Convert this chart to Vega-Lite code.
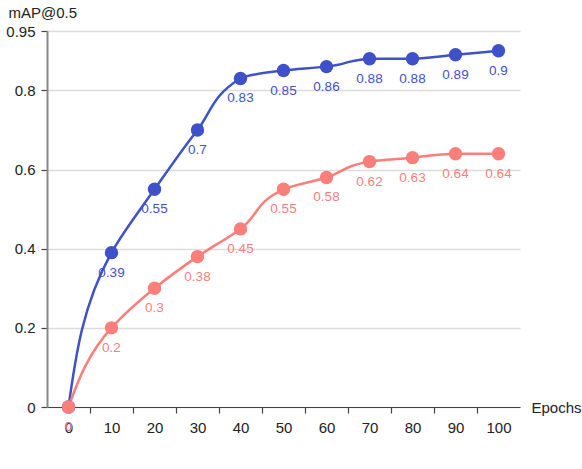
{
  "$schema": "https://vega.github.io/schema/vega-lite/v6.json",
  "width": 473,
  "height": 376,
  "autosize": {"type": "none"},
  "padding": {"left": 47, "top": 31, "right": 62, "bottom": 62},
  "config": {
    "view": {"stroke": null},
    "font": "Liberation Sans",
    "axis": {"labelFont": "Liberation Sans", "titleFont": "Liberation Sans", "labelColor": "#222", "titleColor": "#222"}
  },
  "data": {
    "values": [
      {"epoch": 100, "series": "15K Dataset", "map": 0.9},
      {"epoch": 90, "series": "15K Dataset", "map": 0.89},
      {"epoch": 80, "series": "15K Dataset", "map": 0.88},
      {"epoch": 70, "series": "15K Dataset", "map": 0.88},
      {"epoch": 60, "series": "15K Dataset", "map": 0.86},
      {"epoch": 50, "series": "15K Dataset", "map": 0.85},
      {"epoch": 40, "series": "15K Dataset", "map": 0.83},
      {"epoch": 30, "series": "15K Dataset", "map": 0.7},
      {"epoch": 20, "series": "15K Dataset", "map": 0.55},
      {"epoch": 10, "series": "15K Dataset", "map": 0.39},
      {"epoch": 0, "series": "15K Dataset", "map": 0},
      {"epoch": 100, "series": "3K Dataset", "map": 0.64},
      {"epoch": 90, "series": "3K Dataset", "map": 0.64},
      {"epoch": 80, "series": "3K Dataset", "map": 0.63},
      {"epoch": 70, "series": "3K Dataset", "map": 0.62},
      {"epoch": 60, "series": "3K Dataset", "map": 0.58},
      {"epoch": 50, "series": "3K Dataset", "map": 0.55},
      {"epoch": 40, "series": "3K Dataset", "map": 0.45},
      {"epoch": 30, "series": "3K Dataset", "map": 0.38},
      {"epoch": 20, "series": "3K Dataset", "map": 0.3},
      {"epoch": 10, "series": "3K Dataset", "map": 0.2},
      {"epoch": 0, "series": "3K Dataset", "map": 0}
    ]
  },
  "encoding": {
    "x": {
      "field": "epoch",
      "type": "quantitative",
      "scale": {"domain": [-5, 105], "nice": false, "zero": false},
      "axis": {
        "title": "Epochs",
        "titleX": 484,
        "titleY": 0,
        "titleAlign": "left",
        "titleBaseline": "middle",
        "titleFontSize": 15,
        "titleFontWeight": "normal",
        "values": [0, 5, 10, 15, 20, 25, 30, 35, 40, 45, 50, 55, 60, 65, 70, 75, 80, 85, 90, 95, 100],
        "labelExpr": "datum.value % 10 == 0 ? datum.value + '' : ''",
        "labelOverlap": false,
        "labelFontSize": 15,
        "labelPadding": 7,
        "tickSize": 6,
        "tickColor": "#444",
        "tickWidth": 1.2,
        "tickOpacity": {"condition": {"test": "datum.value % 10 == 5", "value": 1}, "value": 0},
        "domainColor": "#444",
        "domainWidth": 1.2,
        "grid": false
      }
    },
    "y": {
      "field": "map",
      "type": "quantitative",
      "scale": {"domain": [0, 0.95], "nice": false},
      "axis": {
        "title": "mAP@0.5",
        "titleAngle": 0,
        "titleX": -39,
        "titleY": -19,
        "titleAlign": "left",
        "titleBaseline": "middle",
        "titleFontSize": 15,
        "titleFontWeight": "normal",
        "values": [0, 0.2, 0.4, 0.6, 0.8, 0.95],
        "labelExpr": "datum.value + ''",
        "labelFontSize": 15,
        "labelPadding": 6,
        "tickSize": 6,
        "tickColor": "#444",
        "tickWidth": 1.2,
        "domainColor": "#888",
        "domainWidth": 2,
        "gridColor": "#dcdcdc",
        "gridWidth": 1.5
      }
    }
  },
  "layer": [
    {
      "mark": {"type": "area", "orient": "horizontal", "interpolate": "monotone", "fill": "transparent", "strokeWidth": 2.5, "strokeJoin": "round"},
      "encoding": {
        "x2": {"field": "epoch"},
        "stroke": {
          "field": "series",
          "type": "nominal",
          "scale": {"domain": ["15K Dataset", "3K Dataset"], "range": ["#3F51C9", "#FA7F7A"]},
          "legend": null
        }
      }
    },
    {
      "mark": {"type": "text", "dy": 20, "fontSize": 13.5, "baseline": "middle", "align": "center"},
      "encoding": {
        "text": {"field": "map", "type": "quantitative"},
        "color": {
          "field": "series",
          "type": "nominal",
          "scale": {"domain": ["15K Dataset", "3K Dataset"], "range": ["#3F51C9", "#FA7F7A"]},
          "legend": null
        }
      }
    },
    {
      "mark": {"type": "point", "shape": "circle", "filled": true, "size": 180, "strokeWidth": 0, "opacity": 1},
      "encoding": {
        "color": {
          "field": "series",
          "type": "nominal",
          "scale": {"domain": ["15K Dataset", "3K Dataset"], "range": ["#3F51C9", "#FA7F7A"]},
          "legend": {
            "title": null,
            "orient": "none",
            "direction": "horizontal",
            "legendX": 109,
            "legendY": 410,
            "symbolType": "M-1,-0.075H1V0.075H-1Z M0.4,0A0.4,0.4,0,1,1,-0.4,0A0.4,0.4,0,1,1,0.4,0Z",
            "symbolSize": 1090,
            "symbolStrokeWidth": 0,
            "symbolOpacity": 1,
            "labelFontSize": 15,
            "labelColor": "#222",
            "labelFont": "Liberation Sans",
            "labelOffset": 11,
            "columnPadding": 24
          }
        }
      }
    }
  ]
}
